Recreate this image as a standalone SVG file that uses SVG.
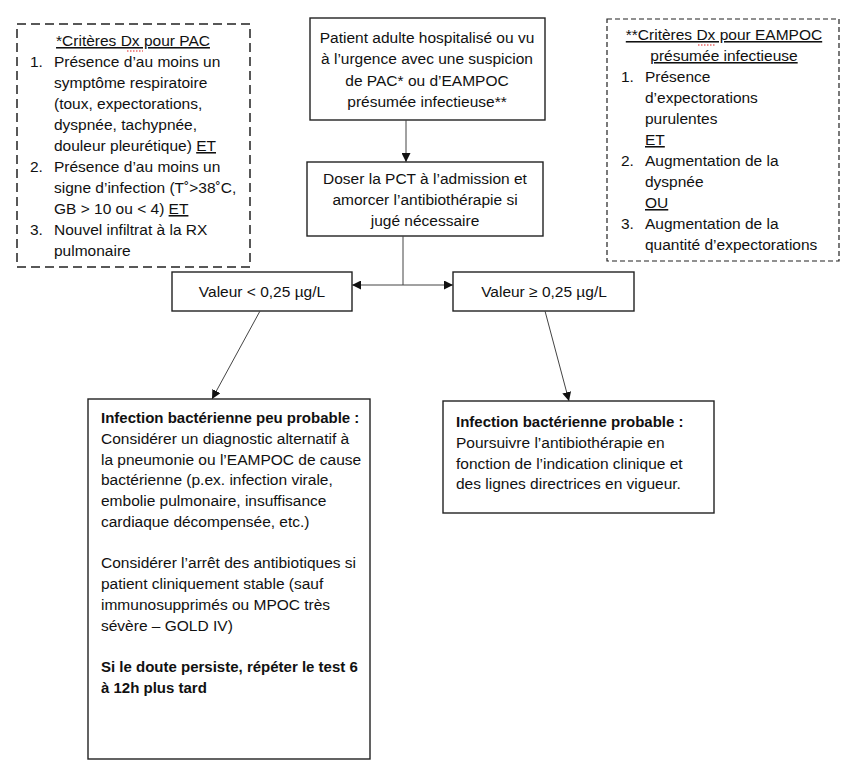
<svg xmlns="http://www.w3.org/2000/svg" width="850" height="771" viewBox="0 0 850 771">
<style>
text{font-family:"Liberation Sans",Arial,sans-serif;font-size:15.5px;fill:#111}
.b{font-weight:bold;font-size:15px}
.c{text-anchor:middle}
.u{text-decoration:underline}
.box{fill:#fff;stroke:#222;stroke-width:1.4}
.d1{fill:#fff;stroke:#222;stroke-width:1.5;stroke-dasharray:9 5}
.d2{fill:#fff;stroke:#222;stroke-width:1.2;stroke-dasharray:5 3}
.con{fill:none;stroke:#444;stroke-width:1}
.sq{stroke:#d22;stroke-width:1.2;stroke-dasharray:1.5 1.5}
</style>
<defs>
<marker id="ah" viewBox="0 0 10 10" refX="10" refY="5" markerWidth="9" markerHeight="9" markerUnits="userSpaceOnUse" orient="auto">
<path d="M0,0 L10,5 L0,10 z" fill="#111"/>
</marker>
</defs>
<g id="crit-pac">
<rect class="d1" x="17" y="24" width="233" height="243"/>
<text class="c u" x="133" y="46">*Critères Dx pour PAC</text>
<line class="sq" x1="127" y1="51" x2="143" y2="51"/>
<text x="30" y="67">1.</text><text x="54" y="67">Présence d’au moins un</text>
<text x="54" y="88">symptôme respiratoire</text>
<text x="54" y="109">(toux, expectorations,</text>
<text x="54" y="130">dyspnée, tachypnée,</text>
<text x="54" y="151">douleur pleurétique) <tspan class="u">ET</tspan></text>
<text x="30" y="172">2.</text><text x="54" y="172">Présence d’au moins un</text>
<text x="54" y="193">signe d’infection (T˚&gt;38˚C,</text>
<text x="54" y="214">GB &gt; 10 ou &lt; 4) <tspan class="u">ET</tspan></text>
<text x="30" y="235">3.</text><text x="54" y="235">Nouvel infiltrat à la RX</text>
<text x="54" y="256">pulmonaire</text>
</g>
<g id="crit-eampoc">
<rect class="d2" x="607" y="19" width="232" height="242"/>
<text class="c u" x="724" y="40">**Critères Dx pour EAMPOC</text>
<line class="sq" x1="698" y1="45" x2="716" y2="45"/>
<text class="c u" x="724" y="61">présumée infectieuse</text>
<text x="621" y="82">1.</text><text x="645" y="82">Présence</text>
<text x="645" y="103">d’expectorations</text>
<text x="645" y="124">purulentes</text>
<text class="u" x="645" y="145">ET</text>
<text x="621" y="166">2.</text><text x="645" y="166">Augmentation de la</text>
<text x="645" y="187">dyspnée</text>
<text class="u" x="645" y="208">OU</text>
<text x="621" y="229">3.</text><text x="645" y="229">Augmentation de la</text>
<text x="645" y="250">quantité d’expectorations</text>
</g>
<g id="patient">
<rect class="box" x="310" y="18" width="235" height="102"/>
<text class="c" x="427" y="43">Patient adulte hospitalisé ou vu</text>
<text class="c" x="427" y="64">à l’urgence avec une suspicion</text>
<text class="c" x="427" y="86">de PAC* ou d’EAMPOC</text>
<text class="c" x="427" y="107">présumée infectieuse**</text>
</g>
<g id="doser">
<rect class="box" x="307" y="162" width="236" height="74"/>
<text class="c" x="425" y="184">Doser la PCT à l’admission et</text>
<text class="c" x="425" y="205">amorcer l’antibiothérapie si</text>
<text class="c" x="425" y="226">jugé nécessaire</text>
</g>
<g id="val-low">
<rect class="box" x="172" y="272" width="180" height="39"/>
<text class="c" x="262" y="297">Valeur &lt; 0,25 µg/L</text>
</g>
<g id="val-high">
<rect class="box" x="453" y="272" width="181" height="39"/>
<text class="c" x="544" y="297">Valeur ≥ 0,25 µg/L</text>
</g>
<g id="peu-probable">
<rect class="box" x="88" y="399" width="282" height="360"/>
<text class="b" x="101" y="423">Infection bactérienne peu probable :</text>
<text x="101" y="444">Considérer un diagnostic alternatif à</text>
<text x="101" y="465">la pneumonie ou l’EAMPOC de cause</text>
<text x="101" y="485">bactérienne (p.ex. infection virale,</text>
<text x="101" y="506">embolie pulmonaire, insuffisance</text>
<text x="101" y="527">cardiaque décompensée, etc.)</text>
<text x="101" y="568">Considérer l’arrêt des antibiotiques si</text>
<text x="101" y="589">patient cliniquement stable (sauf</text>
<text x="101" y="610">immunosupprimés ou MPOC très</text>
<text x="101" y="631">sévère – GOLD IV)</text>
<text class="b" x="101" y="672">Si le doute persiste, répéter le test 6</text>
<text class="b" x="101" y="693">à 12h plus tard</text>
</g>
<g id="probable">
<rect class="box" x="443" y="401" width="271" height="112"/>
<text class="b" x="456" y="427">Infection bactérienne probable :</text>
<text x="456" y="448">Poursuivre l’antibiothérapie en</text>
<text x="456" y="469">fonction de l’indication clinique et</text>
<text x="456" y="489">des lignes directrices en vigueur.</text>
</g>
<g id="connectors">
<line class="con" x1="406" y1="120" x2="406" y2="162" marker-end="url(#ah)"/>
<line class="con" x1="403" y1="236" x2="403" y2="285"/>
<line class="con" x1="403" y1="285" x2="352" y2="285" marker-end="url(#ah)"/>
<line class="con" x1="403" y1="285" x2="453" y2="285" marker-end="url(#ah)"/>
<line class="con" x1="260" y1="311" x2="212" y2="399" marker-end="url(#ah)"/>
<line class="con" x1="545" y1="311" x2="569" y2="401" marker-end="url(#ah)"/>
</g>
</svg>
